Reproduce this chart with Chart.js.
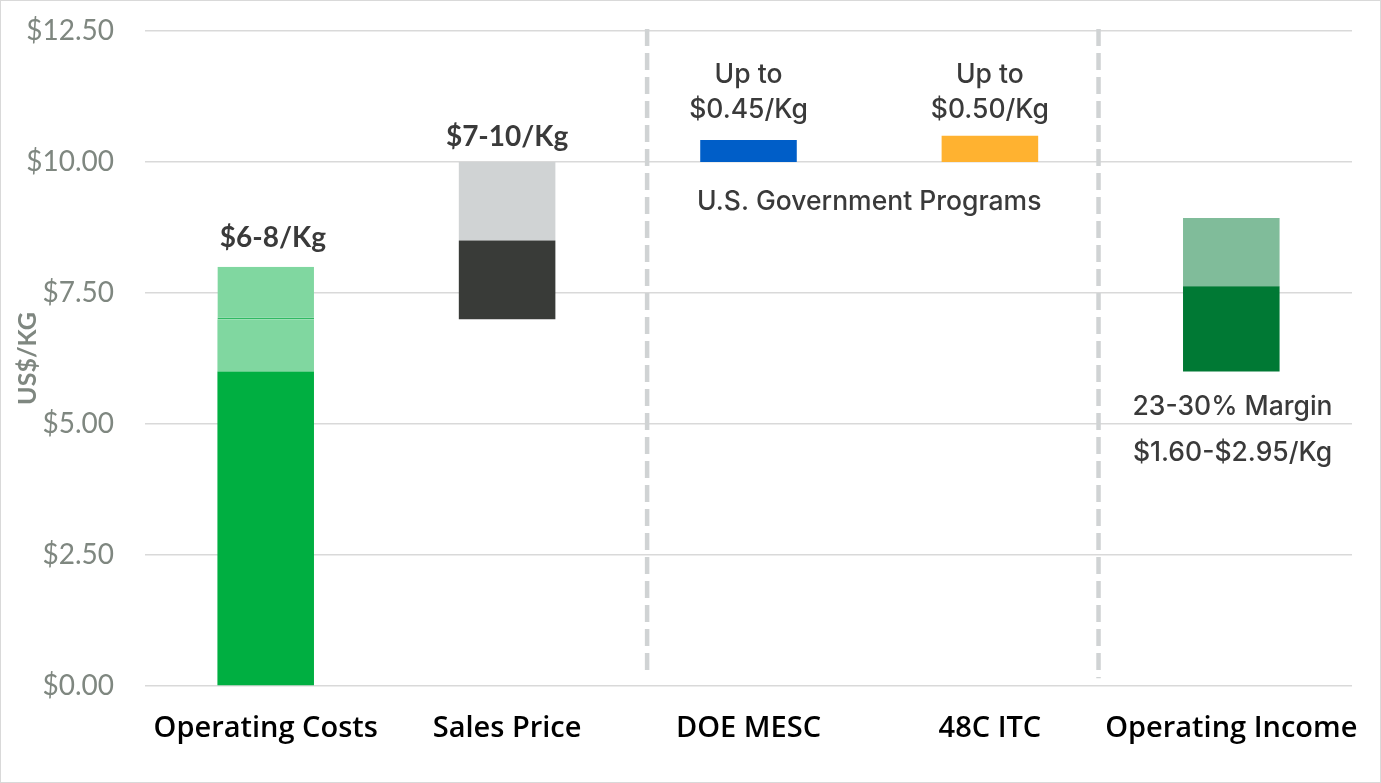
<!DOCTYPE html>
<html>
<head>
<meta charset="utf-8">
<script src="https://cdn.jsdelivr.net/npm/chart.js@4.4.1/dist/chart.umd.min.js"></script>
<style>
  html, body { margin: 0; padding: 0; background: #fff; }
  #wrap { position: relative; width: 1381px; height: 783px; box-sizing: border-box; border: 1px solid #D9D9D9; }
  canvas { display: block; }
</style>
</head>
<body>
<div id="wrap"><canvas id="c" width="1379" height="781"></canvas></div>
<script>
// ---- data ----
const categories = ['Operating Costs', 'Sales Price', 'DOE MESC', '48C ITC', 'Operating Income'];
const yTicks = [0, 2.5, 5, 7.5, 10, 12.5];

const costBase    = [[0, 6], null, null, null, null];
const costLow     = [[6, 7], null, null, null, null];
const costHigh    = [[7, 8], null, null, null, null];
const priceLow    = [null, [7, 8.5], null, null, null];
const priceHigh   = [null, [8.5, 10], null, null, null];
const mescCredit  = [null, null, [10, 10.42], null, null];
const itcCredit   = [null, null, null, [10, 10.5], null];
const incomeLow   = [null, null, null, null, [6, 7.63]];
const incomeHigh  = [null, null, null, null, [7.63, 8.93]];

const dividerAt   = [1.58, 3.45];      // category-index positions of dashed dividers
const dividerEnd  = [0.27, 0.15];      // value where each divider stops

const noteTexts = [
  ['$6-8/Kg'],
  ['$7-10/Kg'],
  ['Up to', '$0.45/Kg'],
  ['Up to', '$0.50/Kg'],
  ['U.S. Government Programs'],
  ['23-30% Margin', '$1.60-$2.95/Kg']
];
const noteAtX = [0.03, 1, 2, 3, 2.5, 4.005];
const noteAtY = [8.55, 10.48, 11.66, 11.66, 9.24, 5.32];
const noteBold = [true, true, false, false, false, false];

// ---- chart ----
function ds(label, data, color, extra) {
  return Object.assign({ label, data, backgroundColor: color, borderWidth: 0, grouped: false,
    categoryPercentage: 1, barPercentage: 0.40 }, extra || {});
}

const dividerPlugin = {
  id: 'dividers',
  beforeDatasetsDraw(chart) {
    const { ctx, scales: { x, y }, chartArea } = chart;
    ctx.save();
    ctx.strokeStyle = '#D0D3D4';
    ctx.lineWidth = 4.5;
    ctx.setLineDash([17, 7]);
    dividerAt.forEach((pos, i) => {
      const px = x.getPixelForValue(pos);
      ctx.beginPath();
      ctx.moveTo(px, chartArea.top - 2);
      ctx.lineTo(px, y.getPixelForValue(dividerEnd[i]));
      ctx.stroke();
    });
    ctx.restore();
  }
};

const notesPlugin = {
  id: 'notes',
  afterDatasetsDraw(chart) {
    const { ctx, scales: { x, y } } = chart;
    ctx.save();
    ctx.fillStyle = '#3A3A3A';
    ctx.textAlign = 'center';
    ctx.textBaseline = 'middle';
    noteTexts.forEach((lines, i) => {
      ctx.font = noteBold[i] ? 'bold 28px Lato' : '500 26.5px Inter';
      const cx = x.getPixelForValue(noteAtX[i]);
      const cy = y.getPixelForValue(noteAtY[i]);
      lines.forEach((t, k) => ctx.fillText(t, cx, cy + k * (i === 5 ? 46 : 35)));
    });
    ctx.restore();
  }
};

new Chart(document.getElementById('c'), {
  type: 'bar',
  data: {
    labels: categories,
    datasets: [
      ds('costBase', costBase, '#00AF41'),
      ds('costLow', costLow, '#80D7A0'),
      ds('costHigh', costHigh, '#80D7A0', { borderColor: '#2FBA63', borderWidth: { top: 0, left: 0, right: 0, bottom: 1.5 }, borderSkipped: false }),
      ds('priceLow', priceLow, '#393B38'),
      ds('priceHigh', priceHigh, '#D0D3D4'),
      ds('mesc', mescCredit, '#005EC8'),
      ds('itc', itcCredit, '#FFB230'),
      ds('incomeLow', incomeLow, '#007934'),
      ds('incomeHigh', incomeHigh, '#80BC9A')
    ]
  },
  options: {
    responsive: false,
    animation: false,
    layout: { padding: { top: 30, right: 28, bottom: 0, left: 0 } },
    plugins: { legend: { display: false }, tooltip: { enabled: false } },
    scales: {
      x: {
        grid: { display: false },
        border: { display: false },
        ticks: { color: '#000', font: { family: 'Open Sans', size: 29, weight: '600' }, padding: 17, maxRotation: 0, autoSkip: false },
        afterFit(s) { s.height = 96; s.paddingLeft = 0; s.paddingRight = 0; }
      },
      y: {
        min: 0, max: 12.5,
        afterBuildTicks(s) { s.ticks = yTicks.map(v => ({ value: v })); },
        grid: { color: '#D9D9D9', lineWidth: 1.5, drawTicks: false },
        border: { display: false },
        ticks: { color: '#7F8780', font: { family: 'Lato', size: 28 }, padding: 31,
          callback: v => '$' + Number(v).toFixed(2) },
        title: { display: true, text: 'US$/KG', color: '#7F8780', font: { family: 'Lato', size: 25, weight: 'bold' }, padding: { top: 12, bottom: 0 } },
        afterFit(s) { s.width = 144; s.paddingTop = 0; s.paddingBottom = 0; }
      }
    }
  },
  plugins: [dividerPlugin, notesPlugin]
});
</script>
</body>
</html>
